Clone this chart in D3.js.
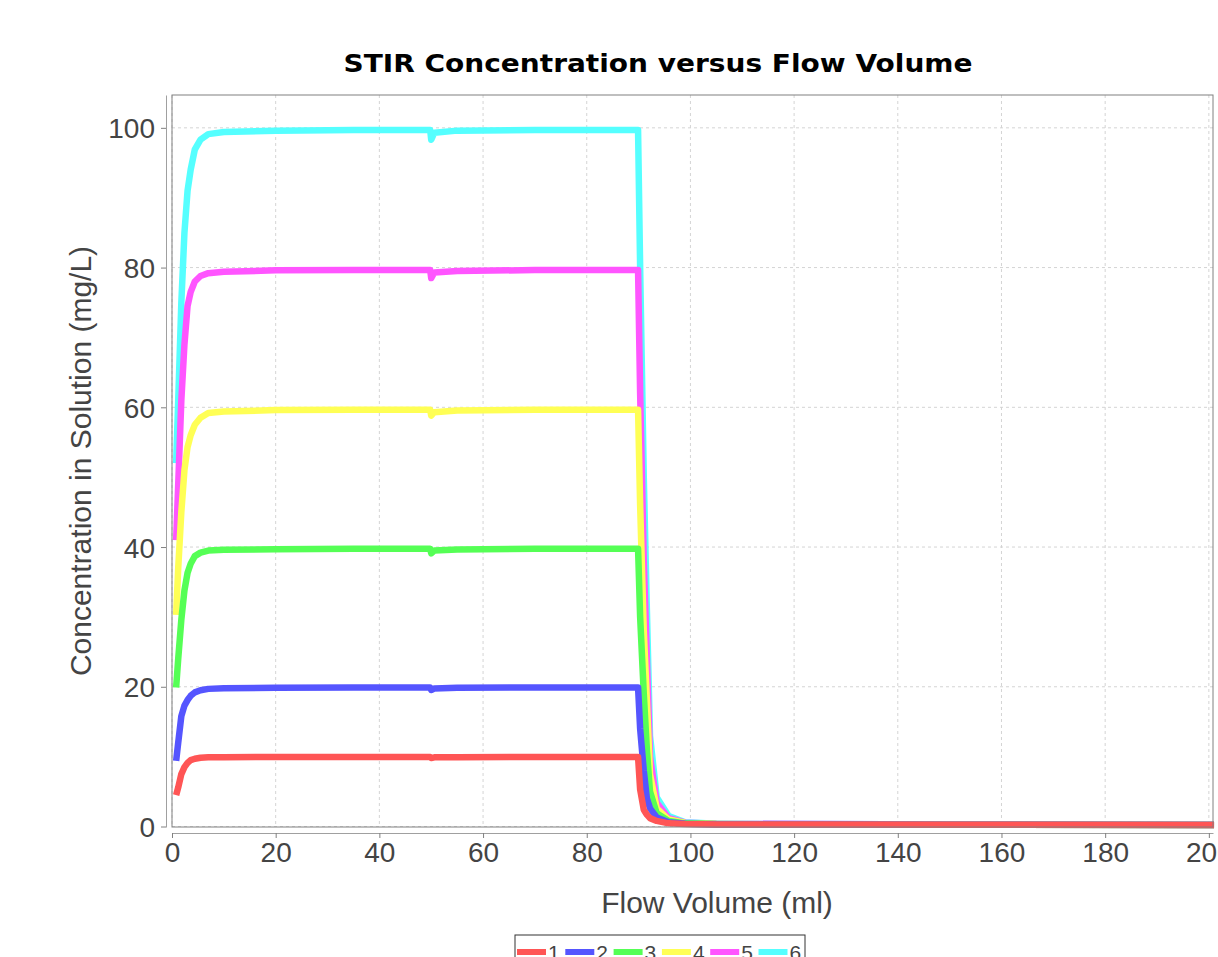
<!DOCTYPE html>
<html>
<head>
<meta charset="utf-8">
<script src="https://cdn.jsdelivr.net/npm/d3@7"></script>
<style>
  body { margin: 0; background: #fff; }
  svg { display: block; }
</style>
</head>
<body>
<div id="wrapper"></div>
<script>
// flow volume (ml) sample points, shared by every series
const flowVolume = [0.8, 1.2, 1.8, 2.4, 3, 3.6, 4.4, 5.5, 7, 10, 20, 35, 49.8, 50, 50.6, 55, 70, 89.9,
  90.3, 91, 91.6, 92.2, 93.5, 95.8, 99, 105, 125, 150, 201]

const series1 = [4.5, 5.6, 7.5, 8.5, 9.1, 9.5, 9.7, 9.85, 9.9, 9.93, 9.95, 9.95, 9.95, 9.8, 9.9, 9.93, 9.95, 9.95,
  5.3, 2.4, 1.7, 1.2, 0.8, 0.45, 0.35, 0.3, 0.3, 0.25, 0.2]
const series2 = [9.4, 12, 15.8, 17.3, 18.1, 18.7, 19.2, 19.5, 19.7, 19.8, 19.85, 19.9, 19.9, 19.55, 19.75, 19.85, 19.9, 19.9,
  14, 8, 4, 2.6, 1.3, 0.6, 0.4, 0.3, 0.3, 0.25, 0.2]
const series3 = [19.9, 24, 29.6, 33.8, 36.3, 37.6, 38.7, 39.2, 39.5, 39.6, 39.7, 39.75, 39.75, 39.1, 39.5, 39.65, 39.75, 39.75,
  30, 19, 11, 5, 1.9, 0.8, 0.45, 0.35, 0.3, 0.25, 0.2]
const series4 = [30.3, 37, 45, 51, 54.3, 56, 57.5, 58.5, 59.2, 59.4, 59.6, 59.65, 59.65, 58.8, 59.3, 59.55, 59.65, 59.65,
  46, 28, 18, 7.5, 2.6, 1, 0.5, 0.35, 0.3, 0.25, 0.2]
const series5 = [41, 49, 61, 69, 74.5, 76.5, 78, 78.8, 79.2, 79.4, 79.6, 79.65, 79.65, 78.5, 79.3, 79.5, 79.65, 79.65,
  62, 38, 24, 10, 3.4, 1.2, 0.55, 0.4, 0.35, 0.3, 0.25]
const series6 = [52, 61, 75, 85, 91, 94, 96.9, 98.3, 99.1, 99.4, 99.6, 99.7, 99.7, 98.3, 99.3, 99.6, 99.7, 99.7,
  80, 50, 31, 13, 4.2, 1.5, 0.6, 0.4, 0.35, 0.3, 0.25]

const seriesNames = ["1", "2", "3", "4", "5", "6"]
const seriesColors = ["#ff5555", "#5555ff", "#55ff55", "#ffff55", "#ff55ff", "#55ffff"]
const xTicks = [0, 20, 40, 60, 80, 100, 120, 140, 160, 180, 200]
const yTicks = [0, 20, 40, 60, 80, 100]

const allSeries = [series1, series2, series3, series4, series5, series6]

let dimensions = {
  width: 1218,
  height: 957,
  margin: {
    top: 95,
    right: 5,
    bottom: 130,
    left: 172,
  },
}
dimensions.boundedWidth = dimensions.width
  - dimensions.margin.left
  - dimensions.margin.right
dimensions.boundedHeight = dimensions.height
  - dimensions.margin.top
  - dimensions.margin.bottom

const wrapper = d3.select("#wrapper")
  .append("svg")
    .attr("width", dimensions.width)
    .attr("height", dimensions.height)
    .style("font-family", "'Liberation Sans', Arial, sans-serif")

const bounds = wrapper.append("g")
  .attr("transform", `translate(${dimensions.margin.left},${dimensions.margin.top})`)

const xScale = d3.scaleLinear()
  .domain([0, 200.8])
  .range([0, dimensions.boundedWidth])

const yScale = d3.scaleLinear()
  .domain([-0.07, 104.7])
  .range([dimensions.boundedHeight, 0])

// plot background + grid
bounds.append("rect")
  .attr("width", dimensions.boundedWidth)
  .attr("height", dimensions.boundedHeight)
  .attr("fill", "#fff")

bounds.append("g")
  .selectAll("line")
  .data(xTicks)
  .join("line")
    .attr("x1", d => xScale(d))
    .attr("x2", d => xScale(d))
    .attr("y1", 0)
    .attr("y2", dimensions.boundedHeight)
    .attr("stroke", "#d4d4d4")
    .attr("stroke-dasharray", "3,3")

bounds.append("g")
  .selectAll("line")
  .data(yTicks)
  .join("line")
    .attr("x1", 0)
    .attr("x2", dimensions.boundedWidth)
    .attr("y1", d => yScale(d))
    .attr("y2", d => yScale(d))
    .attr("stroke", "#d4d4d4")
    .attr("stroke-dasharray", "3,3")

// lines, series 1 drawn last so it sits on top
const lineGenerator = d3.line()
  .x((d, i) => xScale(flowVolume[i]))
  .y(d => yScale(d))

const linesGroup = bounds.append("g")
linesGroup.selectAll("path")
  .data(allSeries.map((s, i) => ({ values: s, color: seriesColors[i] })).reverse())
  .join("path")
    .attr("d", d => lineGenerator(d.values))
    .attr("fill", "none")
    .attr("stroke", d => d.color)
    .attr("stroke-width", 6.5)
    .attr("stroke-linejoin", "round")
    .attr("stroke-linecap", "butt")

bounds.append("rect")
  .attr("width", dimensions.boundedWidth)
  .attr("height", dimensions.boundedHeight)
  .attr("fill", "none")
  .attr("stroke", "#808080")

// axes, offset from the plot like the original
const yAxisGenerator = d3.axisLeft(yScale)
  .tickValues(yTicks)
  .tickSize(5)
  .tickPadding(6)
  .tickSizeOuter(0)

const yAxis = bounds.append("g")
  .attr("transform", "translate(-6,0)")
  .call(yAxisGenerator)
yAxis.select(".domain").attr("stroke", "#a0a0a0")
yAxis.selectAll(".tick line").attr("stroke", "#808080")
yAxis.selectAll(".tick text")
  .attr("fill", "#444")
  .style("font-size", "28px")
  .attr("dy", "0.36em")

const xAxisGenerator = d3.axisBottom(xScale)
  .tickValues(xTicks)
  .tickSize(5)
  .tickPadding(4)
  .tickSizeOuter(0)

const xAxis = bounds.append("g")
  .attr("transform", `translate(0,${dimensions.boundedHeight + 6})`)
  .call(xAxisGenerator)
xAxis.select(".domain").attr("stroke", "#a0a0a0")
xAxis.selectAll(".tick line").attr("stroke", "#808080")
xAxis.selectAll(".tick text")
  .attr("fill", "#444")
  .style("font-size", "28px")

// titles
wrapper.append("text")
  .attr("x", 658)
  .attr("y", 72)
  .attr("text-anchor", "middle")
  .style("font-family", "'DejaVu Sans', sans-serif")
  .style("font-weight", "bold")
  .style("font-size", "25px")
  .attr("textLength", 629)
  .attr("lengthAdjust", "spacingAndGlyphs")
  .text("STIR Concentration versus Flow Volume")

wrapper.append("text")
  .attr("x", 717)
  .attr("y", 913)
  .attr("text-anchor", "middle")
  .attr("fill", "#444")
  .style("font-size", "30px")
  .text("Flow Volume (ml)")

wrapper.append("text")
  .attr("transform", "translate(91,461) rotate(-90)")
  .attr("text-anchor", "middle")
  .attr("fill", "#444")
  .style("font-size", "30px")
  .text("Concentration in Solution (mg/L)")

// legend
const legendGroup = wrapper.append("g")
  .attr("transform", "translate(515,935)")

legendGroup.append("rect")
  .attr("width", 290)
  .attr("height", 40)
  .attr("fill", "#fff")
  .attr("stroke", "#333")

const legendItems = legendGroup.selectAll("g")
  .data(seriesNames)
  .join("g")
    .attr("transform", (d, i) => `translate(${2 + i * 48.3},17)`)

legendItems.append("line")
  .attr("x1", 0)
  .attr("x2", 29)
  .attr("stroke", (d, i) => seriesColors[i])
  .attr("stroke-width", 6)

legendItems.append("text")
  .attr("x", 31)
  .attr("y", 8)
  .attr("fill", "#444")
  .style("font-size", "21px")
  .text(d => d)
</script>
</body>
</html>
